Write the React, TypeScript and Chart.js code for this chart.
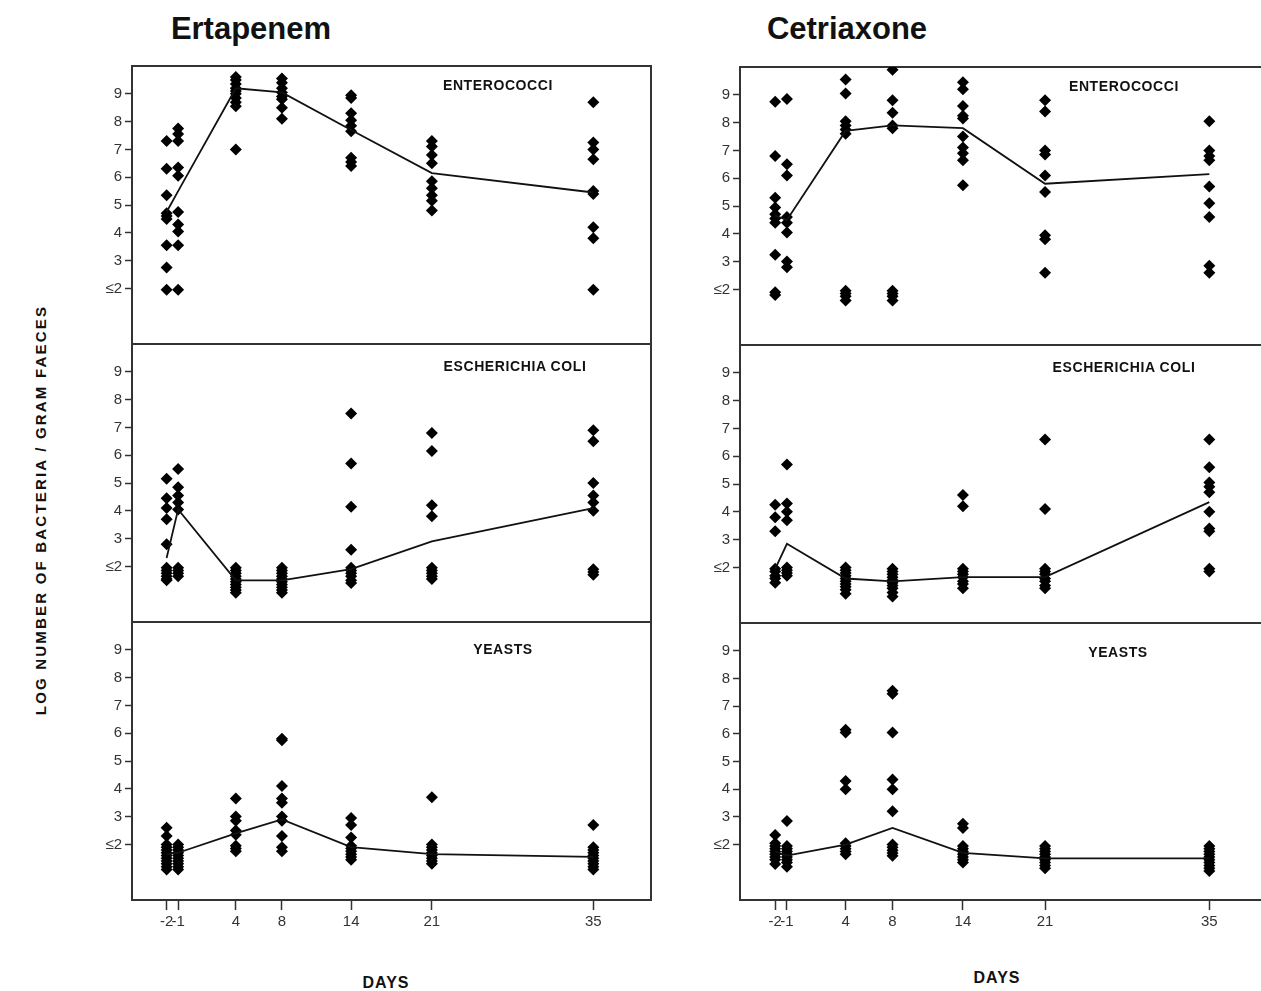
import React, { useEffect, useRef } from 'react';
import { Chart, registerables } from 'chart.js';

Chart.register(...registerables);

// ---------- data ----------
const days = [-2, -1, 4, 8, 14, 21, 35];
const dayTicks = [-2, -1, 4, 8, 14, 21, 35];
const yTickValues = [2, 3, 4, 5, 6, 7, 8, 9];
const yTickLabels = ['≤2', '3', '4', '5', '6', '7', '8', '9'];

// Ertapenem
const ertEnterococci = [
  [7.3, 6.3, 5.35, 4.7, 4.6, 4.5, 3.55, 2.75, 1.95],
  [7.75, 7.55, 7.3, 6.35, 6.05, 4.75, 4.3, 4.05, 3.55, 1.95],
  [9.6, 9.5, 9.35, 9.2, 9.1, 9.0, 8.85, 8.7, 8.55, 7.0],
  [9.55, 9.4, 9.2, 9.05, 8.9, 8.8, 8.5, 8.1],
  [8.95, 8.85, 8.3, 8.05, 7.85, 7.65, 6.7, 6.55, 6.4],
  [7.3, 7.1, 6.8, 6.5, 5.85, 5.6, 5.35, 5.15, 4.8],
  [8.7, 7.25, 7.0, 6.65, 5.5, 5.4, 4.2, 3.8, 1.95],
];
const ertEnterococciMean = [4.75, 5.5, 9.2, 9.05, 7.7, 6.15, 5.45];

const ertEcoli = [
  [5.15, 4.45, 4.1, 3.7, 2.8, 1.95, 1.85, 1.75, 1.65, 1.55, 1.5],
  [5.5, 4.85, 4.55, 4.3, 4.05, 1.95, 1.85, 1.75, 1.65],
  [1.95, 1.85, 1.75, 1.65, 1.55, 1.45, 1.35, 1.25, 1.15, 1.05],
  [1.95, 1.85, 1.75, 1.65, 1.55, 1.45, 1.35, 1.25, 1.15, 1.05],
  [7.5, 5.7, 4.15, 2.6, 1.95, 1.85, 1.75, 1.65, 1.5, 1.4],
  [6.8, 6.15, 4.2, 3.8, 1.95, 1.85, 1.75, 1.65, 1.55],
  [6.9, 6.5, 5.0, 4.55, 4.3, 4.0, 1.9, 1.8, 1.7],
];
const ertEcoliMean = [2.3, 4.05, 1.5, 1.5, 1.9, 2.9, 4.1];

const ertYeasts = [
  [2.6, 2.3, 2.0, 1.9, 1.8, 1.7, 1.6, 1.5, 1.4, 1.3, 1.2, 1.1],
  [2.0, 1.9, 1.8, 1.7, 1.6, 1.5, 1.4, 1.3, 1.2, 1.1],
  [3.65, 3.0, 2.85, 2.5, 2.35, 1.95, 1.85, 1.75],
  [5.8, 5.75, 4.1, 3.65, 3.5, 3.0, 2.85, 2.3, 1.9, 1.75],
  [2.95, 2.7, 2.25, 1.95, 1.85, 1.75, 1.65, 1.55, 1.45],
  [3.7, 2.0, 1.9, 1.8, 1.7, 1.6, 1.5, 1.4, 1.3],
  [2.7, 1.9, 1.8, 1.7, 1.6, 1.5, 1.4, 1.3, 1.2, 1.1],
];
const ertYeastsMean = [1.65, 1.7, 2.4, 2.9, 1.9, 1.65, 1.55];

// Cetriaxone
const cetEnterococci = [
  [8.75, 6.8, 5.3, 4.95, 4.7, 4.55, 4.4, 3.25, 1.9, 1.8],
  [8.85, 6.5, 6.1, 4.6, 4.4, 4.05, 3.0, 2.8],
  [9.55, 9.05, 8.05, 7.9, 7.75, 7.6, 1.95, 1.85, 1.75, 1.6],
  [9.9, 8.8, 8.35, 7.9, 7.8, 1.95, 1.85, 1.75, 1.6],
  [9.45, 9.2, 8.6, 8.25, 8.15, 7.5, 7.1, 6.9, 6.65, 5.75],
  [8.8, 8.4, 7.0, 6.85, 6.1, 5.5, 3.95, 3.8, 2.6],
  [8.05, 7.0, 6.8, 6.65, 5.7, 5.1, 4.6, 2.85, 2.6],
];
const cetEnterococciMean = [4.65, 4.5, 7.7, 7.9, 7.8, 5.8, 6.15];

const cetEcoli = [
  [4.25, 3.8, 3.3, 1.95, 1.85, 1.7, 1.6, 1.45],
  [5.7, 4.3, 4.0, 3.7, 2.0, 1.9, 1.8, 1.7],
  [2.0, 1.9, 1.8, 1.7, 1.6, 1.5, 1.4, 1.3, 1.2, 1.05],
  [1.95, 1.85, 1.75, 1.65, 1.55, 1.45, 1.35, 1.25, 1.1, 0.95],
  [4.6, 4.2, 1.95, 1.85, 1.75, 1.65, 1.5, 1.4, 1.25],
  [6.6, 4.1, 1.95, 1.85, 1.75, 1.6, 1.5, 1.35, 1.25],
  [6.6, 5.6, 5.05, 4.9, 4.7, 4.0, 3.4, 3.3, 1.95, 1.85],
];
const cetEcoliMean = [1.95, 2.85, 1.6, 1.5, 1.65, 1.65, 4.35];

const cetYeasts = [
  [2.35, 2.05, 1.95, 1.85, 1.75, 1.65, 1.55, 1.45, 1.3],
  [2.85, 1.95, 1.85, 1.75, 1.65, 1.55, 1.45, 1.35, 1.2],
  [6.15, 6.05, 4.3, 4.0, 2.05, 1.95, 1.85, 1.75, 1.65],
  [7.55, 7.45, 6.05, 4.35, 4.0, 3.2, 2.0, 1.9, 1.8, 1.7, 1.6],
  [2.75, 2.6, 1.95, 1.85, 1.75, 1.65, 1.55, 1.45, 1.35],
  [1.95, 1.85, 1.75, 1.65, 1.55, 1.45, 1.35, 1.25, 1.15],
  [1.95, 1.85, 1.75, 1.65, 1.55, 1.45, 1.35, 1.25, 1.15, 1.05],
];
const cetYeastsMean = [1.75, 1.6, 2.0, 2.6, 1.7, 1.5, 1.5];

// ---------- chart ----------
const FONT = "'Liberation Sans', Arial, Helvetica, sans-serif";
const INK = '#333';
const PAD_V = 14;

const framePlugin = {
  id: 'frame',
  beforeDatasetsDraw(chart: any) {
    const { ctx, chartArea: a } = chart;
    ctx.save();
    ctx.strokeStyle = '#333';
    ctx.lineWidth = 2;
    ctx.strokeRect(a.left, a.top, a.right - a.left, a.bottom - a.top);
    ctx.restore();
  },
};

type PanelProps = {
  values: number[][];
  mean: number[];
  showX: boolean;
  left: number;
  areaTop: number;
  areaHeight: number;
  width: number;
  padRight: number;
};

function Panel({ values, mean, showX, left, areaTop, areaHeight, width, padRight }: PanelProps) {
  const ref = useRef<HTMLCanvasElement | null>(null);
  const top = areaTop - PAD_V;
  const height = PAD_V + areaHeight + (showX ? 40 : PAD_V);
  useEffect(() => {
    if (!ref.current) return;
    const pts: { x: number; y: number }[] = [];
    values.forEach((col, i) => col.forEach((v) => pts.push({ x: days[i], y: v })));
    const meanPts = mean.map((v, i) => ({ x: days[i], y: v }));
    const chart = new Chart(ref.current, {
      type: 'scatter',
      data: {
        datasets: [
          {
            data: meanPts,
            showLine: true,
            borderColor: '#111',
            borderWidth: 1.8,
            pointRadius: 0,
            pointHoverRadius: 0,
            fill: false,
          } as any,
          {
            data: pts,
            pointStyle: 'rectRot',
            pointRadius: 6,
            pointBackgroundColor: '#000',
            pointBorderWidth: 0,
            pointBorderColor: '#000',
          } as any,
        ],
      },
      options: {
        animation: false,
        responsive: false,
        maintainAspectRatio: false,
        events: [],
        layout: { padding: { left: 0, right: padRight, top: PAD_V, bottom: showX ? 0 : PAD_V } },
        plugins: { legend: { display: false }, tooltip: { enabled: false }, title: { display: false } },
        scales: {
          x: {
            type: 'linear',
            min: -5,
            max: 40,
            display: showX,
            afterBuildTicks: (s: any) => {
              s.ticks = dayTicks.map((v) => ({ value: v }));
            },
            afterFit: (s: any) => {
              s.height = showX ? 40 : 0;
            },
            border: { display: false },
            grid: { drawOnChartArea: false, drawTicks: true, tickLength: 10, tickColor: '#333', tickWidth: 1.5 },
            ticks: {
              autoSkip: false,
              maxRotation: 0,
              minRotation: 0,
              padding: 3,
              color: INK,
              font: { family: FONT, size: 15 },
              callback: (v: any) => String(v),
            },
          },
          y: {
            type: 'linear',
            min: 0,
            max: 10,
            afterBuildTicks: (s: any) => {
              s.ticks = yTickValues.map((v) => ({ value: v }));
            },
            afterFit: (s: any) => {
              s.width = 72;
            },
            border: { display: false },
            grid: { drawOnChartArea: false, drawTicks: true, tickLength: 7, tickColor: '#333', tickWidth: 1.5 },
            ticks: {
              padding: 3,
              color: INK,
              font: { family: FONT, size: 15 },
              callback: (_v: any, i: number) => yTickLabels[i],
            },
          },
        },
      },
      plugins: [framePlugin],
    });
    return () => chart.destroy();
  }, [values, mean, showX, padRight]);
  return (
    <canvas
      ref={ref}
      width={width}
      height={height}
      style={{ position: 'absolute', left, top, width, height }}
    />
  );
}

const txt = (s: string, x: number, y: number, size: number, extra: React.CSSProperties = {}) => (
  <div
    style={{
      position: 'absolute',
      left: x,
      top: y,
      transform: 'translate(-50%, -50%)',
      fontFamily: FONT,
      fontWeight: 'bold',
      fontSize: size,
      lineHeight: 1,
      whiteSpace: 'nowrap',
      color: '#111',
      ...extra,
    }}
  >
    {s}
  </div>
);

export default function App() {
  // left column: chart area x 132..652 ; right column: 740..1269
  const L = { left: 60, width: 597, padRight: 5 };
  const R = { left: 668, width: 606, padRight: 5 };
  return (
    <div
      style={{
        position: 'absolute',
        left: 0,
        top: 0,
        width: 1261,
        height: 991,
        overflow: 'hidden',
        background: '#fff',
      }}
    >
      <Panel values={ertEnterococci} mean={ertEnterococciMean} showX={false} left={L.left} areaTop={66} areaHeight={278} width={L.width} padRight={L.padRight} />
      <Panel values={ertEcoli} mean={ertEcoliMean} showX={false} left={L.left} areaTop={344} areaHeight={278} width={L.width} padRight={L.padRight} />
      <Panel values={ertYeasts} mean={ertYeastsMean} showX={true} left={L.left} areaTop={622} areaHeight={278} width={L.width} padRight={L.padRight} />

      <Panel values={cetEnterococci} mean={cetEnterococciMean} showX={false} left={R.left} areaTop={67} areaHeight={278} width={R.width} padRight={R.padRight} />
      <Panel values={cetEcoli} mean={cetEcoliMean} showX={false} left={R.left} areaTop={345} areaHeight={278} width={R.width} padRight={R.padRight} />
      <Panel values={cetYeasts} mean={cetYeastsMean} showX={true} left={R.left} areaTop={623} areaHeight={277} width={R.width} padRight={R.padRight} />

      {txt('Ertapenem', 251, 28, 31)}
      {txt('Cetriaxone', 847, 28, 31)}

      {txt('ENTEROCOCCI', 498, 85, 14, { letterSpacing: 0.6 })}
      {txt('ESCHERICHIA COLI', 515, 366, 14, { letterSpacing: 0.6 })}
      {txt('YEASTS', 503, 649, 14, { letterSpacing: 0.6 })}
      {txt('ENTEROCOCCI', 1124, 86, 14, { letterSpacing: 0.6 })}
      {txt('ESCHERICHIA COLI', 1124, 367, 14, { letterSpacing: 0.6 })}
      {txt('YEASTS', 1118, 652, 14, { letterSpacing: 0.6 })}

      {txt('LOG NUMBER OF BACTERIA / GRAM FAECES', 40, 510, 15, {
        transform: 'translate(-50%, -50%) rotate(-90deg)',
        letterSpacing: 2.2,
      })}

      {txt('DAYS', 386, 983, 16, { letterSpacing: 1 })}
      {txt('DAYS', 997, 978, 16, { letterSpacing: 1 })}
    </div>
  );
}
